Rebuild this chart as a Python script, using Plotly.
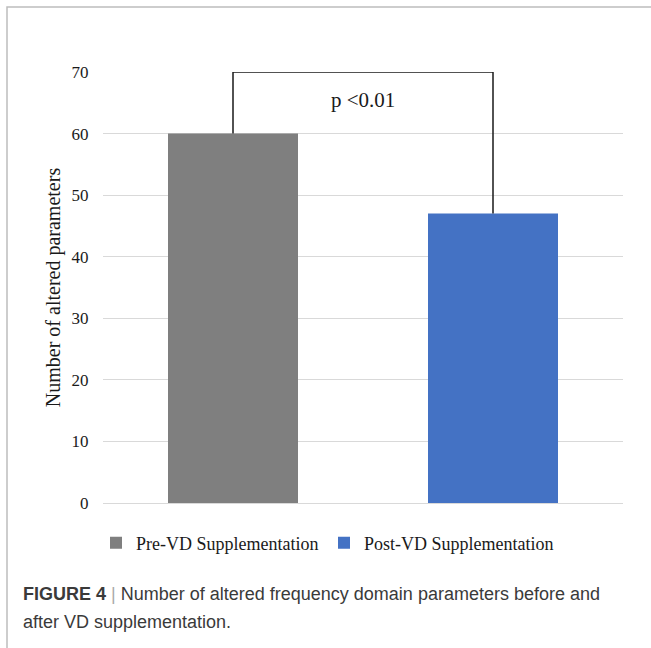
import plotly.graph_objects as go

# ---- data ----
categories = ["Pre-VD Supplementation", "Post-VD Supplementation"]
values = [60, 47]
bar_colors = ["#7f7f7f", "#4472c4"]
y_ticks = [0, 10, 20, 30, 40, 50, 60, 70]
bracket_top = 70
p_label = "p <0.01"
y_title = "Number of altered parameters"
caption_bold = "FIGURE 4"
caption_rest_1 = "Number of altered frequency domain parameters before and"
caption_rest_2 = "after VD supplementation."

W, H = 651, 648
L, R, T, B = 103, 28, 72, 145
pw, ph = W - L - R, H - T - B


def px_x(x):
    return (x - L) / pw


def px_y(y):
    return (H - B - y) / ph


serif = "Liberation Serif, Times New Roman, serif"
sans = "Liberation Sans, Arial, sans-serif"

fig = go.Figure()
legend_ids = ["legend", "legend2"]
for cat, val, col, lg in zip(categories, values, bar_colors, legend_ids):
    fig.add_trace(go.Bar(x=[cat], y=[val], name=cat, marker=dict(color=col, line=dict(width=0)),
                         width=0.5, legend=lg, hoverinfo="x+y"))

# significance bracket
fig.add_shape(type="path", xref="x", yref="y",
              path=f"M 0 {values[0]} L 0 {bracket_top} L 1 {bracket_top} L 1 {values[1]}",
              line=dict(color="#1a1a1a", width=1.5))
fig.add_annotation(x=0.5, y=65.5, xref="x", yref="y", text=p_label, showarrow=False,
                   font=dict(family=serif, size=21, color="#1a1a1a"))

# outer frame (left + top)
fig.add_shape(type="path", xref="paper", yref="paper",
              path=f"M {px_x(7)} {px_y(660)} L {px_x(7)} {px_y(7)} L {px_x(660)} {px_y(7)}",
              line=dict(color="#bdbdbd", width=1.5))

# caption
fig.add_annotation(xref="paper", yref="paper", x=px_x(21), y=px_y(594), xanchor="left", yanchor="middle",
                   showarrow=False, align="left",
                   text=f"<b>{caption_bold}</b> <span style='color:#aaaaaa'>|</span> {caption_rest_1}",
                   font=dict(family=sans, size=18, color="#3a3a3a"))
fig.add_annotation(xref="paper", yref="paper", x=px_x(21), y=px_y(622), xanchor="left", yanchor="middle",
                   showarrow=False, align="left", text=caption_rest_2,
                   font=dict(family=sans, size=18, color="#3a3a3a"))

legend_font = dict(family=serif, size=18, color="#1a1a1a")
fig.update_layout(
    width=W, height=H,
    margin=dict(l=L, r=R, t=T, b=B),
    paper_bgcolor="white", plot_bgcolor="white",
    barmode="overlay",
    showlegend=True,
    legend=dict(orientation="h", x=px_x(96), y=px_y(543), xanchor="left", yanchor="middle",
                font=legend_font, bgcolor="rgba(0,0,0,0)"),
    legend2=dict(orientation="h", x=px_x(324), y=px_y(543), xanchor="left", yanchor="middle",
                 font=legend_font, bgcolor="rgba(0,0,0,0)"),
    xaxis=dict(showticklabels=False, showgrid=False, zeroline=False, showline=False, ticks=""),
    yaxis=dict(range=[0, 70], tickvals=y_ticks, showgrid=True, gridcolor="#d9d9d9", gridwidth=1,
               zeroline=True, zerolinecolor="#d9d9d9", zerolinewidth=1, showline=False,
               ticks="outside", ticklen=10, tickcolor="rgba(0,0,0,0)",
               tickfont=dict(family=serif, size=17, color="#1a1a1a"),
               title=dict(text=y_title, standoff=5, font=dict(family=serif, size=20, color="#1a1a1a"))),
)

fig.write_html("out.html", config={"displayModeBar": False},
               post_script="document.body.style.margin='0px';")
